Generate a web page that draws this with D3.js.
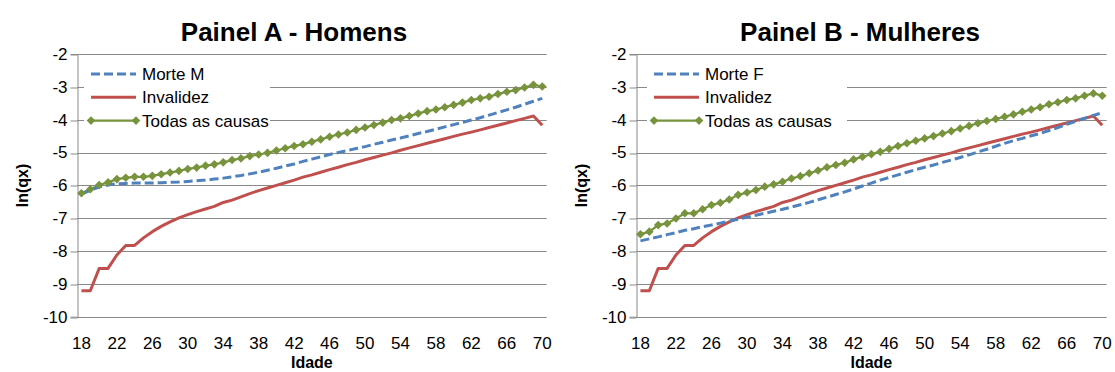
<!DOCTYPE html>
<html>
<head>
<meta charset="utf-8">
<script src="https://cdn.jsdelivr.net/npm/d3@7"></script>
<style>
  html, body { margin: 0; padding: 0; background: #fff; }
  svg { display: block; }
  text { font-family: "Liberation Sans", Arial, sans-serif; fill: #000; }
</style>
</head>
<body>
<svg id="chart" width="1115" height="372"></svg>
<script>
// Ages on the category axis
const ages = d3.range(18, 71);
const ageTickLabels = ages.filter(a => (a - 18) % 4 === 0);
const yTicks = [-2, -3, -4, -5, -6, -7, -8, -9, -10];

// ln(qx) by age
const invalidez = [
  -9.21, -9.21, -8.53, -8.53, -8.12, -7.83, -7.83, -7.60, -7.41, -7.25,
  -7.11, -6.99, -6.89, -6.80, -6.72, -6.64, -6.52, -6.45, -6.35, -6.25,
  -6.16, -6.08, -6.00, -5.92, -5.84, -5.75, -5.68, -5.60, -5.52, -5.45,
  -5.37, -5.30, -5.22, -5.15, -5.08, -5.01, -4.93, -4.86, -4.79, -4.72,
  -4.65, -4.58, -4.51, -4.44, -4.38, -4.31, -4.24, -4.17, -4.10, -4.03,
  -3.96, -3.89, -4.17
];
const morteM = [
  -6.27, -6.15, -6.05, -5.99, -5.95, -5.94, -5.93, -5.93, -5.93, -5.92,
  -5.91, -5.90, -5.88, -5.86, -5.84, -5.81, -5.78, -5.74, -5.70, -5.65,
  -5.60, -5.54, -5.48, -5.41, -5.35, -5.27, -5.20, -5.13, -5.06, -5.00,
  -4.94, -4.88, -4.82, -4.75, -4.69, -4.62, -4.56, -4.49, -4.42, -4.36,
  -4.29, -4.22, -4.15, -4.08, -4.01, -3.94, -3.86, -3.78, -3.70, -3.62,
  -3.53, -3.44, -3.35
];
const todasM = [
  -6.24, -6.12, -5.99, -5.91, -5.81, -5.77, -5.74, -5.74, -5.71, -5.66,
  -5.61, -5.56, -5.50, -5.46, -5.40, -5.36, -5.30, -5.23, -5.18, -5.11,
  -5.06, -5.01, -4.94, -4.87, -4.80, -4.75, -4.67, -4.60, -4.52, -4.45,
  -4.39, -4.31, -4.24, -4.16, -4.09, -4.01, -3.96, -3.89, -3.81, -3.74,
  -3.69, -3.62, -3.55, -3.48, -3.40, -3.35, -3.30, -3.22, -3.15, -3.10,
  -3.02, -2.94, -2.99
];
const morteF = [
  -7.69, -7.63, -7.57, -7.50, -7.44, -7.37, -7.32, -7.26, -7.21, -7.15,
  -7.09, -7.03, -6.97, -6.91, -6.85, -6.79, -6.73, -6.66, -6.59, -6.52,
  -6.44, -6.36, -6.28, -6.20, -6.11, -6.02, -5.93, -5.84, -5.76, -5.68,
  -5.60, -5.52, -5.45, -5.38, -5.30, -5.23, -5.15, -5.07, -4.98, -4.90,
  -4.81, -4.72, -4.64, -4.57, -4.49, -4.42, -4.33, -4.24, -4.14, -4.05,
  -3.96, -3.87, -3.79
];
const todasF = [
  -7.49, -7.41, -7.21, -7.16, -7.01, -6.85, -6.85, -6.73, -6.60, -6.53,
  -6.43, -6.29, -6.22, -6.14, -6.04, -5.97, -5.89, -5.79, -5.72, -5.63,
  -5.55, -5.45, -5.38, -5.31, -5.21, -5.13, -5.05, -4.98, -4.89, -4.80,
  -4.72, -4.64, -4.57, -4.50, -4.42, -4.35, -4.27, -4.19, -4.11, -4.04,
  -3.98, -3.91, -3.84, -3.76, -3.69, -3.62, -3.53, -3.47, -3.40, -3.35,
  -3.27, -3.20, -3.27
];

const COLORS = { morte: "#4F81BD", inval: "#C0504D", todas: "#77933C", grid: "#8A8A8A" };

const svg = d3.select("#chart");

function diamondPath(r) {
  return `M0,${-r}L${r},0L0,${r}L${-r},0Z`;
}

function drawPanel(cfg) {
  const g = svg.append("g");
  const x = d3.scaleBand().domain(ages).range([cfg.left, cfg.right]).paddingInner(0).paddingOuter(0);
  const y = d3.scaleLinear().domain([-10, -2]).range([316.7, 54]);
  const cx = a => x(a) + x.bandwidth() / 2;

  // Horizontal gridlines
  g.append("g").selectAll("line").data(yTicks).join("line")
    .attr("x1", cfg.left).attr("x2", cfg.right)
    .attr("y1", d => Math.round(y(d)) + 0.5).attr("y2", d => Math.round(y(d)) + 0.5)
    .attr("stroke", COLORS.grid).attr("stroke-width", 1);

  // Y axis (plain hyphen for negative labels)
  const yAxis = g.append("g")
    .attr("transform", `translate(${Math.round(cfg.left) + 0.5},0)`)
    .call(d3.axisLeft(y).tickValues(yTicks).tickSize(7).tickPadding(3).tickFormat(d => String(d)));
  yAxis.select(".domain").attr("stroke", COLORS.grid);
  yAxis.selectAll(".tick line").attr("stroke", COLORS.grid)
    .attr("transform", d => `translate(0,${Math.round(y(d)) + 0.5 - y(d)})`);
  yAxis.selectAll("text").style("font-size", "17px").attr("fill", "#000")
    .style("font-family", "'Liberation Sans', Arial, sans-serif");

  // X axis (category labels every 4 years)
  const xAxis = g.append("g")
    .attr("transform", `translate(0,${y(-10)})`)
    .call(d3.axisBottom(x).tickValues(ageTickLabels).tickSize(0).tickPadding(20));
  xAxis.select(".domain").remove();
  xAxis.selectAll("text").style("font-size", "17px").attr("fill", "#000")
    .style("font-family", "'Liberation Sans', Arial, sans-serif");

  // Legend box
  const lg = g.append("g");
  lg.append("rect")
    .attr("x", cfg.legendX).attr("y", 60).attr("width", cfg.legendW).attr("height", 71)
    .attr("fill", "#fff");

  // Series lines
  const line = vals => d3.line().x((d, i) => cx(ages[i])).y(d => y(d))(vals);

  g.append("path").attr("d", line(cfg.todas))
    .attr("fill", "none").attr("stroke", COLORS.todas).attr("stroke-width", 2.25);
  g.append("path").attr("d", line(cfg.inval))
    .attr("fill", "none").attr("stroke", COLORS.inval).attr("stroke-width", 3)
    .attr("stroke-linejoin", "round");
  g.append("path").attr("d", line(cfg.morte))
    .attr("fill", "none").attr("stroke", COLORS.morte).attr("stroke-width", 3)
    .attr("stroke-dasharray", "9,4");

  g.append("g").selectAll("path").data(cfg.todas).join("path")
    .attr("d", diamondPath(4.3))
    .attr("transform", (d, i) => `translate(${cx(ages[i])},${y(d)})`)
    .attr("fill", COLORS.todas);

  // Legend entries
  const items = [
    { label: cfg.morteLabel, key: "morte" },
    { label: "Invalidez", key: "inval" },
    { label: "Todas as causas", key: "todas" }
  ];
  items.forEach((it, i) => {
    const ly = 74 + i * 23.3;
    const lx0 = cfg.legendX + 7, lx1 = lx0 + 45;
    const ln = lg.append("line").attr("x1", lx0).attr("x2", lx1).attr("y1", ly).attr("y2", ly)
      .attr("stroke", COLORS[it.key]);
    if (it.key === "morte") ln.attr("stroke-width", 3).attr("stroke-dasharray", "9,4");
    if (it.key === "inval") ln.attr("stroke-width", 3);
    if (it.key === "todas") {
      ln.attr("stroke-width", 2.25);
      [lx0, lx1].forEach(px => lg.append("path").attr("d", diamondPath(4.3))
        .attr("transform", `translate(${px},${ly})`).attr("fill", COLORS.todas));
    }
    lg.append("text").attr("x", lx1 + 6).attr("y", ly).attr("dy", "0.35em")
      .style("font-size", "17px").text(it.label);
  });

  // Titles
  g.append("text").attr("x", cfg.titleX).attr("y", 41).attr("text-anchor", "middle")
    .style("font-size", "26px").style("font-weight", "bold").text(cfg.title);
  g.append("text").attr("x", (cfg.left + cfg.right) / 2).attr("y", 362).attr("dy", "0.35em")
    .attr("text-anchor", "middle").style("font-size", "16px").style("font-weight", "bold").text("Idade");
  g.append("text").attr("transform", `translate(${cfg.left - 55},185.5) rotate(-90)`)
    .attr("dy", "0.35em").attr("text-anchor", "middle")
    .style("font-size", "16px").style("font-weight", "bold").text("ln(qx)");
}

drawPanel({
  left: 77, right: 546.7, title: "Painel A - Homens", titleX: 294,
  legendX: 84, legendW: 186, morteLabel: "Morte M",
  morte: morteM, inval: invalidez, todas: todasM
});
drawPanel({
  left: 636, right: 1106.7, title: "Painel B - Mulheres", titleX: 860,
  legendX: 647, legendW: 200, morteLabel: "Morte F",
  morte: morteF, inval: invalidez, todas: todasF
});
</script>
</body>
</html>
